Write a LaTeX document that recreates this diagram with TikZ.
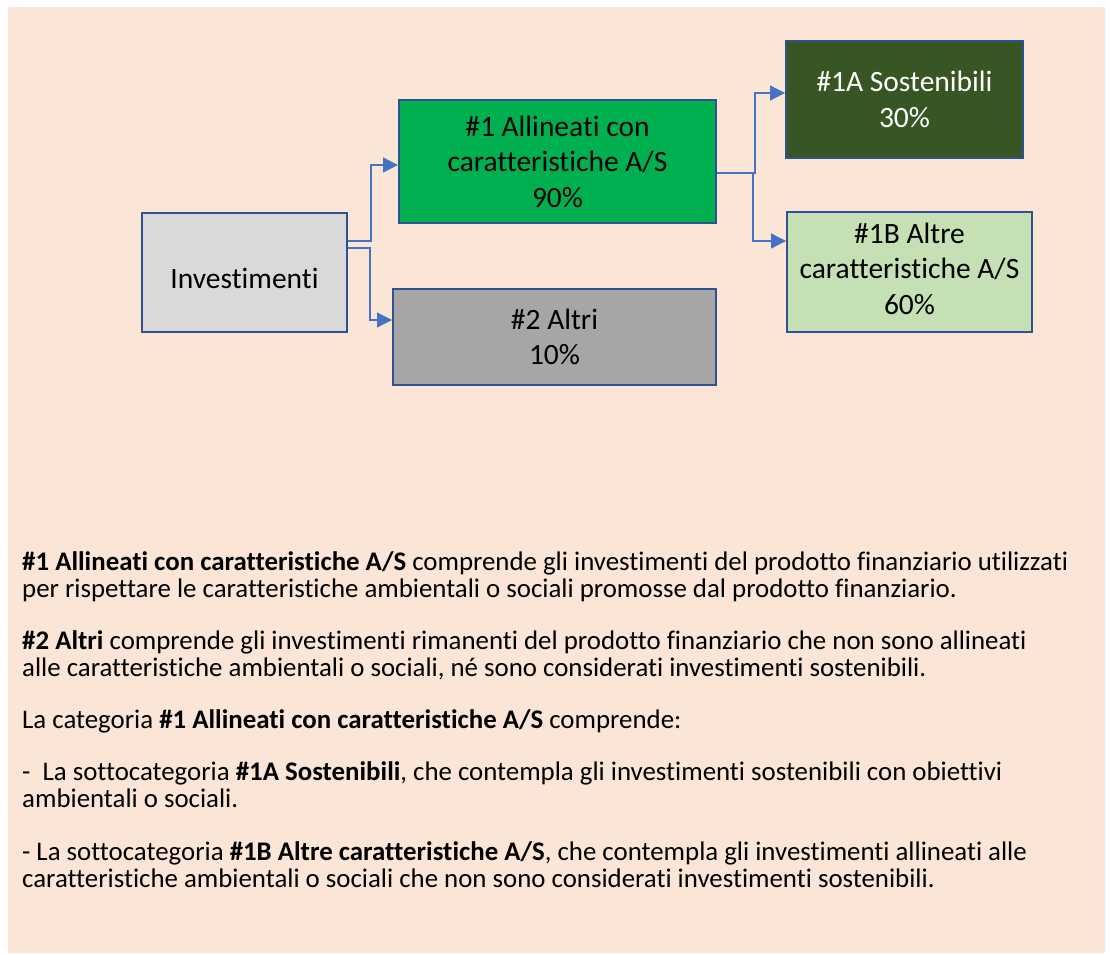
\documentclass[tikz,border=0pt]{standalone}
\usepackage{fontspec}
\setmainfont{Carlito}[Ligatures=NoCommon]
\usetikzlibrary{arrows.meta}
\definecolor{bgpeach}{HTML}{FBE5D6}
\definecolor{bordblue}{HTML}{2F528F}
\definecolor{connblue}{HTML}{4472C4}
\definecolor{boxgreen}{HTML}{00B050}
\definecolor{boxdark}{HTML}{375623}
\definecolor{boxlight}{HTML}{C5E0B4}
\definecolor{boxgrey}{HTML}{A6A6A6}
\definecolor{boxlgrey}{HTML}{D9D9D9}
\tikzset{
  box/.style={draw=bordblue, line width=2pt, rectangle, align=center, inner sep=0pt,
    font=\fontsize{29.5}{35.5}\selectfont, text=black},
  boxtext/.style={align=center, inner sep=0pt, font=\fontsize{29.5}{35.5}\selectfont, text=black},
  conn/.style={draw=connblue, line width=1.3pt, -{Triangle[length=15pt,width=15pt]}},
  para/.style={anchor=base west, inner sep=0pt, font=\fontsize{26.85}{27}\selectfont, text=black}
}
\begin{document}
\begin{tikzpicture}[x=1pt,y=-1pt]
\useasboundingbox (0,0) rectangle (1110,953);
\fill[bgpeach] (8,7) rectangle (1105,953);
% boxes
\node[box, fill=boxlgrey, minimum width=205pt, minimum height=119pt] (inv) at (244.5,272.5) {};
\node[boxtext] (invtext) at ([yshift=-6pt]inv.center) {Investimenti};
\node[box, fill=boxgreen, minimum width=317pt, minimum height=123pt] (al) at (557.5,161.5) {\#1 Allineati con\\caratteristiche A/S\\90\%};
\node[box, fill=boxgrey, minimum width=323pt, minimum height=96pt] (alt) at (554.5,337) {\#2 Altri\\10\%};
\node[box, fill=boxdark, text=white, minimum width=237pt, minimum height=117pt] (sos) at (904.5,99.5) {\#1A Sostenibili\\30\%};
\node[box, fill=boxlight, minimum width=245pt, minimum height=120pt] (oth) at (909.5,272) {};
\node[boxtext] (othtext) at ([yshift=3.5pt]oth.center) {\#1B Altre\\caratteristiche A/S\\60\%};
% connectors
\draw[conn] (inv.east |- {(0,241)}) -- ++(23,0) |- (al.west |- {(0,165)});
\draw[conn] (inv.east |- {(0,248)}) -- ++(22,0) |- (alt.west |- {(0,320)});
\draw[conn] (al.east |- {(0,173)}) -- ++(38,0) |- (sos.west |- {(0,93)});
\draw[conn] (al.east |- {(0,173)}) -- ++(36,0) |- (oth.west |- {(0,241)});
% text
\node[para] (t1) at (22,570) {\textbf{\#1 Allineati con caratteristiche A/S} comprende gli investimenti del prodotto finanziario utilizzati};
\node[para] (t2) at (22,597) {per rispettare le caratteristiche ambientali o sociali promosse dal prodotto finanziario.};
\node[para] (t3) at (22,649) {\textbf{\#2 Altri} comprende gli investimenti rimanenti del prodotto finanziario che non sono allineati};
\node[para] (t4) at (22,676) {alle caratteristiche ambientali o sociali, né sono considerati investimenti sostenibili.};
\node[para] (t5) at (22,728) {La categoria \textbf{\#1 Allineati con caratteristiche A/S} comprende:};
\node[para] (t6) at (22,780) {-\ \ La sottocategoria \textbf{\#1A Sostenibili}, che contempla gli investimenti sostenibili con obiettivi};
\node[para] (t7) at (22,807) {ambientali o sociali.};
\node[para] (t8) at (22,860) {- La sottocategoria \textbf{\#1B Altre caratteristiche A/S}, che contempla gli investimenti allineati alle};
\node[para] (t9) at (22,887) {caratteristiche ambientali o sociali che non sono considerati investimenti sostenibili.};
\end{tikzpicture}
\end{document}
